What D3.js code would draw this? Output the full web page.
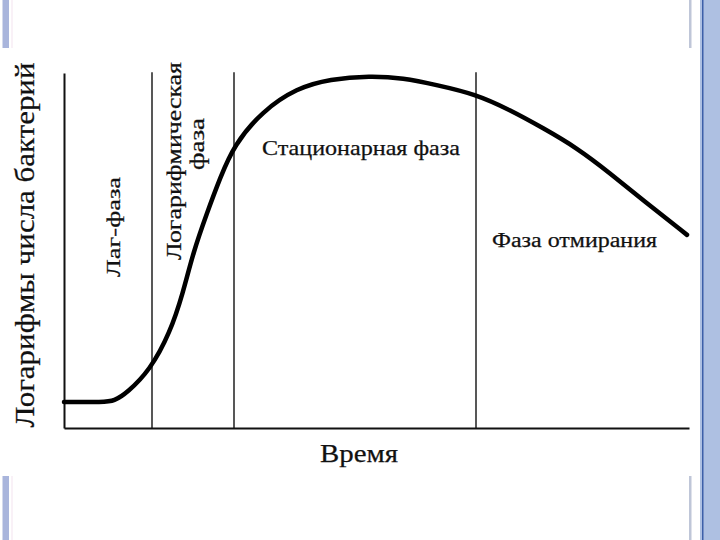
<!DOCTYPE html>
<html>
<head>
<meta charset="utf-8">
<script src="https://cdn.jsdelivr.net/npm/d3@7"></script>
<style>
  html, body { margin: 0; padding: 0; background: #ffffff; }
  svg { display: block; }
  text { font-family: "Liberation Serif", "DejaVu Serif", serif; fill: #111; stroke: #111; stroke-width: 0.25; }
</style>
</head>
<body>
<svg id="chart" width="720" height="540"></svg>
<script>
// ---- Data (time in arbitrary units, log of bacterial count in arbitrary units)
const growthTime = [0, 1.6, 2.0, 2.52, 3.44, 4.24, 4.76, 5.16, 5.72, 6.24, 6.8, 7.92, 9.32, 10.64, 12.24, 13.56, 14.92, 16.44, 17.84, 19.16, 20.52, 21.84, 23.16, 24.92];
const growthLog  = [0.73, 0.73, 0.76, 0.99, 1.63, 2.68, 3.80, 4.93, 6.06, 7.04, 7.97, 8.92, 9.58, 9.83, 9.92, 9.86, 9.66, 9.41, 8.96, 8.45, 7.89, 7.18, 6.42, 5.44];
const phaseBoundaries = [3.52, 6.8, 16.48];
const axisLabels = { x: "Время", y: "Логарифмы числа бактерий" };
const phaseNames = ["Лаг-фаза", "Логарифмическая", "фаза", "Стационарная фаза", "Фаза отмирания"];

const svg = d3.select("#chart");

// ---- Decorative slide frame
const deco = svg.append("g");
deco.append("rect").attr("x", 2.5).attr("y", 0).attr("width", 6.5).attr("height", 48).attr("fill", "#a9b5dc");
deco.append("rect").attr("x", 2.5).attr("y", 476).attr("width", 6.5).attr("height", 64).attr("fill", "#a9b5dc");
deco.append("rect").attr("x", 11.5).attr("y", 0).attr("width", 1).attr("height", 48).attr("fill", "#f3e4f0");
deco.append("rect").attr("x", 11.5).attr("y", 476).attr("width", 1).attr("height", 64).attr("fill", "#f3e4f0");
deco.append("rect").attr("x", 689).attr("y", 0).attr("width", 2.5).attr("height", 48).attr("fill", "#bfc6d8");
deco.append("rect").attr("x", 689).attr("y", 476).attr("width", 2.5).attr("height", 64).attr("fill", "#bfc6d8");
deco.append("rect").attr("x", 700).attr("y", 0).attr("width", 20).attr("height", 540).attr("fill", "#aec0e2");
deco.append("rect").attr("x", 702).attr("y", 0).attr("width", 1.5).attr("height", 540).attr("fill", "#3d5fa8");

// ---- Scales
const x = d3.scaleLinear().domain([0, 25]).range([64, 689]);
const y = d3.scaleLinear().domain([0, 10]).range([428, 73]);

const g = svg.append("g");

// Axes (plain lines, no ticks)
const xAxis = d3.axisBottom(x).tickValues([]).tickSize(0).tickSizeOuter(0);
g.append("g").attr("transform", `translate(0,${y(0)})`).call(xAxis)
  .call(s => s.select(".domain").attr("stroke", "#111").attr("stroke-width", 2.2));
const yAxis = d3.axisLeft(y.copy().domain([0, 9.92])).tickValues([]).tickSize(0).tickSizeOuter(0);
g.append("g").attr("transform", `translate(${x(0)},0)`).call(yAxis)
  .call(s => s.select(".domain").attr("stroke", "#111").attr("stroke-width", 2));

// Phase boundary lines
g.selectAll("line.phase").data(phaseBoundaries).join("line")
  .attr("class", "phase")
  .attr("x1", d => x(d)).attr("x2", d => x(d))
  .attr("y1", y(0)).attr("y2", y(10.02))
  .attr("stroke", "#111").attr("stroke-width", 1.4);

// Growth curve
const pts = growthTime.map((t, i) => [t, growthLog[i]]);
const line = d3.line().x(d => x(d[0])).y(d => y(d[1])).curve(d3.curveBasis);
g.append("path").datum(pts).attr("d", line)
  .attr("fill", "none").attr("stroke", "#000").attr("stroke-width", 4.5)
  .attr("stroke-linecap", "round").attr("stroke-linejoin", "round");

// ---- Text labels
function label(txt, cx, cy, size, len, rotate) {
  const t = g.append("text").text(txt)
    .attr("text-anchor", "middle")
    .attr("font-size", size)
    .attr("transform", rotate ? `translate(${cx},${cy}) rotate(-90)` : `translate(${cx},${cy})`);
  if (len) t.attr("textLength", len).attr("lengthAdjust", "spacingAndGlyphs");
  return t;
}
label(axisLabels.y, 34, 245, 27, 365, true);
label(axisLabels.x, 359, 462, 25, 78, false);
label(phaseNames[0], 120, 227, 19, 100, true);
label(phaseNames[1], 181, 161, 20, 198, true);
label(phaseNames[2], 204, 144, 20, 52, true);
label(phaseNames[3], 361, 155, 21, 198, false);
label(phaseNames[4], 574.5, 247, 20, 165, false);
</script>
</body>
</html>
